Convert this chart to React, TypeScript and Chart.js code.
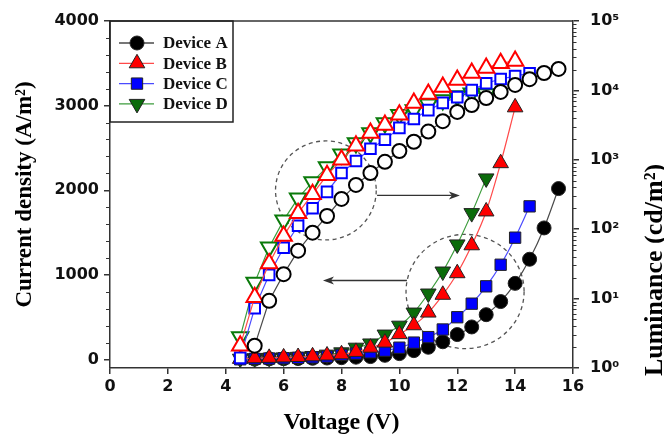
import React, { useEffect, useRef } from "react";
import { Chart, registerables } from "chart.js";

Chart.register(...registerables);

// ---------------- data ----------------
const voltageA = [5, 5.5, 6, 6.5, 7, 7.5, 8, 8.5, 9, 9.5, 10, 10.5, 11, 11.5, 12, 12.5, 13, 13.5, 14, 14.5, 15, 15.5];
const voltageB = [4.5, 5, 5.5, 6, 6.5, 7, 7.5, 8, 8.5, 9, 9.5, 10, 10.5, 11, 11.5, 12, 12.5, 13, 13.5, 14];
const voltageC = [4.5, 5, 5.5, 6, 6.5, 7, 7.5, 8, 8.5, 9, 9.5, 10, 10.5, 11, 11.5, 12, 12.5, 13, 13.5, 14, 14.5];
const voltageD = [4.5, 5, 5.5, 6, 6.5, 7, 7.5, 8, 8.5, 9, 9.5, 10, 10.5, 11, 11.5, 12, 12.5, 13];

// current density (A/m2), left axis
const currentA = [5, 8, 10, 12, 15, 18, 22, 28, 35, 50, 70, 105, 145, 210, 295, 385, 530, 685, 900, 1185, 1555, 2020];
const currentB = [8, 15, 20, 25, 30, 38, 48, 62, 90, 140, 200, 300, 405, 555, 765, 1020, 1350, 1750, 2320, 2980];
const currentC = [3, 8, 12, 15, 20, 25, 35, 55, 70, 85, 105, 140, 200, 265, 355, 500, 660, 865, 1120, 1440, 1810];
const currentD = [10, 15, 20, 25, 32, 42, 58, 85, 140, 190, 295, 400, 555, 780, 1040, 1360, 1730, 2140];

// luminance (cd/m2), right axis
const luminanceA = [2.1, 9.3, 22.5, 49, 89, 155, 273, 435, 645, 935, 1340, 1820, 2550, 3600, 4900, 6150, 7750, 9500, 12000, 14500, 17800, 20400];
const luminanceB = [2.1, 10.5, 32, 80, 170, 320, 600, 1000, 1590, 2430, 3160, 4450, 6600, 8900, 11200, 14100, 17800, 21000, 24700, 26500];
const luminanceC = [1.4, 7.3, 22, 54, 112, 200, 345, 645, 960, 1440, 1950, 2880, 3870, 5200, 6600, 8000, 10100, 12700, 14600, 16100, 17700];
const luminanceD = [2.8, 17, 55, 135, 280, 480, 790, 1200, 1740, 2440, 3390, 4450, 5200, 6300, 7300, 8300, 9100, 8900];

const deviceNames = ["Device A", "Device B", "Device C", "Device D"];

const xTicks = [0, 2, 4, 6, 8, 10, 12, 14, 16];
const leftTicks = [0, 1000, 2000, 3000, 4000];
const rightTicks = [1, 10, 100, 1000, 10000, 100000];
const rightTickLabels = ["10\u2070", "10\u00B9", "10\u00B2", "10\u00B3", "10\u2074", "10\u2075"];

// annotation positions in data units (voltage, current density)
const circleCenters = [[7.46, 1998], [12.27, 804]];
const circleRadii = [[1.74, 585], [2.04, 675]];
const arrows = [[9.23, 1939, 12.09, 1939], [10.26, 934, 7.36, 934]];

// ---------------- styles ----------------
const styles = [
  { line: "#4a4a4a", fill: "#000000", stroke: "#000000", point: "circle", rot: 0, r: 7, ro: 7 },
  { line: "#ff4a4a", fill: "#ff0000", stroke: "#ff0000", point: "triangle", rot: 0, r: 9, ro: 9.5 },
  { line: "#4a4aff", fill: "#0000ff", stroke: "#0000ff", point: "rect", rot: 0, r: 8, ro: 7.5 },
  { line: "#3c9c3c", fill: "#0a6b0a", stroke: "#0a7a0a", point: "triangle", rot: 180, r: 9, ro: 9.5 },
];

const volts = [voltageA, voltageB, voltageC, voltageD];
const currents = [currentA, currentB, currentC, currentD];
const lums = [luminanceA, luminanceB, luminanceC, luminanceD];

function pts(xs: number[], ys: number[]) {
  return xs.map((x, i) => ({ x, y: ys[i] }));
}

function drawMarker(ctx: CanvasRenderingContext2D, s: any, x: number, y: number) {
  ctx.beginPath();
  const r = s.r;
  if (s.point === "circle") {
    ctx.arc(x, y, r, 0, Math.PI * 2);
  } else if (s.point === "rect") {
    const h = Math.SQRT1_2 * r;
    ctx.rect(x - h, y - h, 2 * h, 2 * h);
  } else {
    let rad = (s.rot * Math.PI) / 180;
    ctx.moveTo(x + Math.sin(rad) * r, y - Math.cos(rad) * r);
    rad += (2 * Math.PI) / 3;
    ctx.lineTo(x + Math.sin(rad) * r, y - Math.cos(rad) * r);
    rad += (2 * Math.PI) / 3;
    ctx.lineTo(x + Math.sin(rad) * r, y - Math.cos(rad) * r);
    ctx.closePath();
  }
  ctx.fillStyle = s.fill;
  ctx.fill();
  ctx.lineWidth = 1;
  ctx.strokeStyle = "#222";
  ctx.stroke();
}

const framePlugin = {
  id: "frameAndMinor",
  afterDraw(chart: any) {
    const { ctx, chartArea: ca, scales } = chart;
    ctx.save();
    ctx.strokeStyle = "#333";
    ctx.lineWidth = 1.5;
    ctx.beginPath();
    ctx.moveTo(ca.left, ca.top);
    ctx.lineTo(ca.right, ca.top);
    ctx.stroke();
    ctx.lineWidth = 1;
    ctx.beginPath();
    for (let v = 200; v < 4000; v += 200) {
      if (v % 1000 === 0) continue;
      const y = Math.round(scales.y.getPixelForValue(v)) + 0.5;
      ctx.moveTo(ca.left - 4, y);
      ctx.lineTo(ca.left, y);
    }
    for (let d = 1; d < 100000; d *= 10) {
      for (let m = 2; m <= 9; m++) {
        const y = Math.round(scales.y1.getPixelForValue(d * m)) + 0.5;
        ctx.moveTo(ca.right, y);
        ctx.lineTo(ca.right + 3.5, y);
      }
    }
    ctx.stroke();

    // right axis title (reads bottom-to-top)
    ctx.fillStyle = "#000";
    ctx.font = "bold 26px 'Liberation Serif'";
    ctx.translate(662, 270);
    ctx.rotate(-Math.PI / 2);
    ctx.textAlign = "center";
    ctx.textBaseline = "alphabetic";
    ctx.fillText("Luminance (cd/m\u00B2)", 0, 0);
    ctx.restore();

    // legend
    ctx.save();
    const lx = ca.left;
    const ly = ca.top;
    ctx.strokeStyle = "#222";
    ctx.lineWidth = 1.5;
    ctx.strokeRect(lx, ly, 123, 101);
    deviceNames.forEach((name, i) => {
      const s = styles[i];
      const y = ly + 22 + i * 20.3;
      ctx.strokeStyle = s.line;
      ctx.lineWidth = 1.3;
      ctx.beginPath();
      ctx.moveTo(lx + 9, y);
      ctx.lineTo(lx + 44, y);
      ctx.stroke();
      drawMarker(ctx, s, lx + 27, y);
      ctx.fillStyle = "#111";
      ctx.font = "bold 17px 'Liberation Serif'";
      ctx.textAlign = "left";
      ctx.textBaseline = "middle";
      ctx.fillText(name, lx + 53, y + 1);
    });
    ctx.restore();
  },
  beforeDatasetsDraw(chart: any) {
    const { ctx, scales } = chart;
    const xs = scales.x;
    const ys = scales.y;
    ctx.save();
    ctx.strokeStyle = "#555";
    ctx.lineWidth = 1.3;
    ctx.setLineDash([4, 3.5]);
    circleCenters.forEach((c, i) => {
      const cx = xs.getPixelForValue(c[0]);
      const cy = ys.getPixelForValue(c[1]);
      const rx = xs.getPixelForValue(c[0] + circleRadii[i][0]) - cx;
      const ry = cy - ys.getPixelForValue(c[1] + circleRadii[i][1]);
      ctx.beginPath();
      ctx.ellipse(cx, cy, rx, ry, 0, 0, Math.PI * 2);
      ctx.stroke();
    });
    ctx.setLineDash([]);
    ctx.strokeStyle = "#333";
    ctx.fillStyle = "#333";
    arrows.forEach((a) => {
      const x1 = xs.getPixelForValue(a[0]);
      const y1 = ys.getPixelForValue(a[1]);
      const x2 = xs.getPixelForValue(a[2]);
      const y2 = ys.getPixelForValue(a[3]);
      const dir = Math.sign(x2 - x1);
      ctx.beginPath();
      ctx.moveTo(x1, y1);
      ctx.lineTo(x2 - dir * 8, y2);
      ctx.stroke();
      ctx.beginPath();
      ctx.moveTo(x2, y2);
      ctx.lineTo(x2 - dir * 11, y2 - 4);
      ctx.lineTo(x2 - dir * 8, y2);
      ctx.lineTo(x2 - dir * 11, y2 + 4);
      ctx.closePath();
      ctx.fill();
    });
    ctx.restore();
  },
};

export default function App() {
  const ref = useRef<HTMLCanvasElement | null>(null);

  useEffect(() => {
    if (!ref.current) return;
    const datasets: any[] = [];
    // open markers: luminance
    [0, 1, 2, 3].forEach((i) => {
      const s = styles[i];
      datasets.push({
        label: deviceNames[i] + " L",
        data: pts(volts[i], lums[i]),
        yAxisID: "y1",
        borderColor: s.line,
        borderWidth: 1.2,
        pointStyle: s.point,
        rotation: s.rot,
        pointRadius: s.ro,
        pointBackgroundColor: "#ffffff",
        pointBorderColor: s.stroke,
        pointBorderWidth: 2,
        tension: 0,
      });
    });
    // filled markers: current density
    [1, 2, 3, 0].forEach((i) => {
      const s = styles[i];
      datasets.push({
        label: deviceNames[i] + " J",
        data: pts(volts[i], currents[i]),
        yAxisID: "y",
        borderColor: s.line,
        borderWidth: 1.2,
        pointStyle: s.point,
        rotation: s.rot,
        pointRadius: s.r,
        pointBackgroundColor: s.fill,
        pointBorderColor: "#222",
        pointBorderWidth: 1,
        cubicInterpolationMode: "monotone",
      });
    });

    const tickFont = { family: "'DejaVu Sans'", weight: "bold" as const, size: 16 };
    const axisGrid = {
      display: true,
      drawOnChartArea: false,
      drawTicks: true,
      tickLength: 6,
      color: "#333",
      lineWidth: 1.5,
    };
    const axisBorder = { display: true, color: "#333", width: 1.5 };

    const chart = new Chart(ref.current, {
      type: "line",
      data: { datasets },
      options: {
        animation: false,
        responsive: false,
        maintainAspectRatio: false,
        layout: { padding: { top: 21, right: 0, left: 0, bottom: 0 } },
        plugins: { legend: { display: false }, tooltip: { enabled: false } },
        scales: {
          x: {
            type: "linear",
            min: 0,
            max: 16,
            afterBuildTicks: (axis: any) => {
              axis.ticks = xTicks.map((v) => ({ value: v }));
            },
            ticks: { font: tickFont, color: "#111", padding: 3, maxRotation: 0, callback: (v: any) => String(v) },
            grid: axisGrid,
            border: axisBorder,
            title: {
              display: true,
              text: "Voltage (V)",
              font: { family: "'Liberation Serif'", weight: "bold", size: 24 },
              color: "#000",
              padding: { top: 0, bottom: 0 },
            },
            afterFit: (axis: any) => {
              axis.height = 69;
            },
          },
          y: {
            type: "linear",
            position: "left",
            min: -100,
            max: 4000,
            afterBuildTicks: (axis: any) => {
              axis.ticks = leftTicks.map((v) => ({ value: v }));
            },
            ticks: { font: tickFont, color: "#111", padding: 5, callback: (v: any) => String(v) },
            grid: axisGrid,
            border: axisBorder,
            title: {
              display: true,
              text: "Current density (A/m\u00B2)",
              font: { family: "'Liberation Serif'", weight: "bold", size: 23 },
              color: "#000",
              padding: { top: 11, bottom: 0 },
            },
            afterFit: (axis: any) => {
              axis.width = 110;
            },
          },
          y1: {
            type: "logarithmic",
            position: "right",
            min: 1,
            max: 100000,
            afterBuildTicks: (axis: any) => {
              axis.ticks = rightTicks.map((v) => ({ value: v }));
            },
            ticks: {
              font: tickFont,
              color: "#111",
              padding: 11,
              callback: (v: any) => {
                const idx = rightTicks.indexOf(Number(v));
                return idx >= 0 ? rightTickLabels[idx] : "";
              },
            },
            grid: axisGrid,
            border: axisBorder,
            afterFit: (axis: any) => {
              axis.width = 91;
            },
          },
        },
      },
      plugins: [framePlugin],
    });
    return () => chart.destroy();
  }, []);

  return (
    <div style={{ position: "fixed", left: 0, top: 0, width: 664, height: 437, background: "#fff" }}>
      <canvas ref={ref} width={664} height={437} style={{ width: 664, height: 437, display: "block" }} />
    </div>
  );
}
